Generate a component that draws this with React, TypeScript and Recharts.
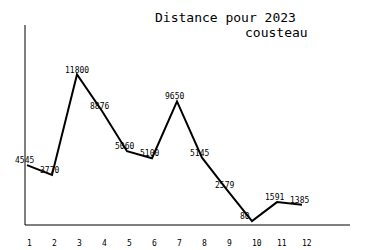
import React from 'react';
import { LineChart, Line, XAxis, YAxis, LabelList } from 'recharts';

const months = [1, 2, 3, 4, 5, 6, 7, 8, 9, 10, 11, 12];
const distances = [4545, 3770, 11800, 8876, 5660, 5100, 9650, 5145, 2579, 80, 1591, 1385];
const distanceLabels = ['4545', '3770', '11800', '8876', '5060', '5100', '9650', '5145', '2579', '80', '1591', '1385'];

const data = months.map((m, i) => ({ month: m, distance: distances[i], label: distanceLabels[i] }));

const MONO = '"DejaVu Sans Mono", monospace';

const MonthTick = (props: any) => {
  const { x, payload } = props;
  return (
    <text x={x} y={246} textAnchor="start" fontFamily={MONO} fontSize={8} fill="#000">
      {payload.value}
    </text>
  );
};

const PointLabel = (props: any) => {
  const { x, y, index } = props;
  return (
    <text x={x - 12} y={y - 2} textAnchor="start" fontFamily={MONO} fontSize={8} fill="#000">
      {distanceLabels[index]}
    </text>
  );
};

export default function App() {
  return (
    <div style={{ position: 'absolute', left: 0, top: 0, width: 375, height: 250, background: '#fff' }}>
      <LineChart width={375} height={250} data={data} margin={{ top: 25, right: 25, bottom: 0, left: 0 }}>
        <XAxis
          dataKey="month"
          type="number"
          domain={[0.92, 13.92]}
          ticks={months}
          interval={0}
          tickLine={false}
          axisLine={{ stroke: '#000', strokeWidth: 1 }}
          tick={<MonthTick />}
          height={25}
        />
        <YAxis
          type="number"
          domain={[-240, 15760]}
          tick={false}
          tickLine={false}
          axisLine={{ stroke: '#000', strokeWidth: 1 }}
          width={25}
        />
        <Line
          type="linear"
          dataKey="distance"
          stroke="#000"
          strokeWidth={2}
          dot={false}
          isAnimationActive={false}
        >
          <LabelList dataKey="label" content={<PointLabel />} />
        </Line>
      </LineChart>
      <div style={{ position: 'absolute', left: 155, top: 11, fontFamily: MONO, fontSize: 13, lineHeight: '13px', whiteSpace: 'pre' }}>
        Distance pour 2023
      </div>
      <div style={{ position: 'absolute', left: 245, top: 26, fontFamily: MONO, fontSize: 13, lineHeight: '13px', whiteSpace: 'pre' }}>
        cousteau
      </div>
    </div>
  );
}
